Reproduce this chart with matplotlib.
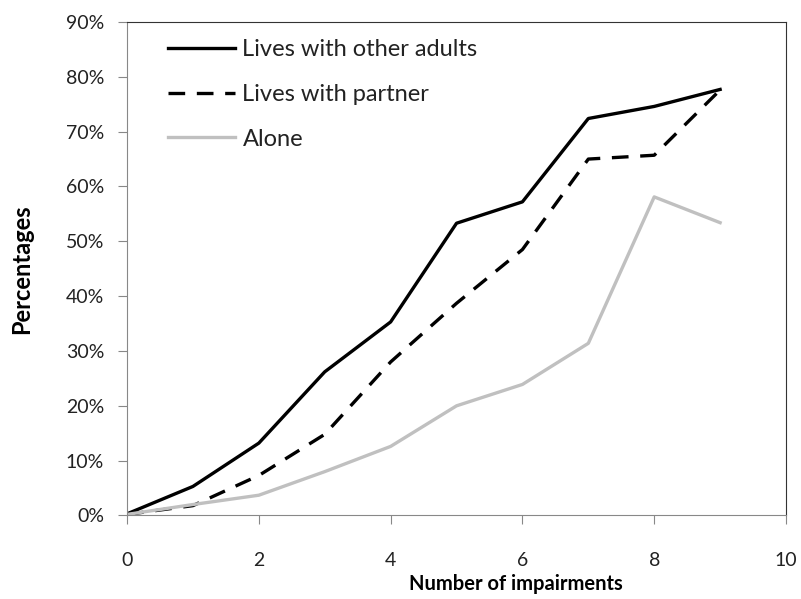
import matplotlib
matplotlib.use("Agg")
import matplotlib.pyplot as plt
from matplotlib.ticker import FuncFormatter

plt.rcParams['font.family'] = ['Lato', 'DejaVu Sans']

# values (percent)
impairments = [0, 1, 2, 3, 4, 5, 6, 7, 8, 9]
other_adults = [0.3, 5.3, 13.2, 26.2, 35.3, 53.3, 57.2, 72.4, 74.6, 77.7]
partner = [0.2, 1.8, 7.3, 14.8, 28.0, 38.7, 48.5, 65.0, 65.7, 77.6]
alone = [0.2, 2.0, 3.7, 8.0, 12.6, 20.0, 23.9, 31.4, 58.1, 53.4]

fig = plt.figure(figsize=(8.01, 5.99), dpi=100)
ax = fig.add_axes([0.1586, 0.1394, 0.8227, 0.8239])

ax.plot(impairments, other_adults, color='black', lw=2.4, label='Lives with other adults')
ax.plot(impairments, partner, color='black', lw=2.4, dashes=(5, 3.5), label='Lives with partner')
ax.plot(impairments, alone, color='#c0c0c0', lw=2.4, label='Alone')

ax.set_xlim(0, 10)
ax.set_ylim(0, 90)
ax.set_xticks(range(0, 11, 2))
ax.set_yticks(range(0, 91, 10))
ax.yaxis.set_major_formatter(FuncFormatter(lambda v, p: f'{v:.0f}%'))
ax.tick_params(axis='both', direction='out', length=6.5, color='#888888',
               labelsize=14, labelcolor='#222222')
ax.tick_params(axis='x', pad=20)
ax.tick_params(axis='y', pad=10)

for s in ['left', 'bottom']:
    ax.spines[s].set_color('#888888')
for s in ['top', 'right']:
    ax.spines[s].set_color('#333333')

ax.set_ylabel('Percentages', fontsize=17, fontweight='bold')
ax.yaxis.set_label_coords(-0.143, 0.5)
fig.text(516 / 801, 1 - 584 / 599, 'Number of impairments', fontsize=14.5,
         fontweight='bold', ha='center', va='center')

leg = ax.legend(loc='upper left', frameon=False, fontsize=17, handlelength=2.85,
                handletextpad=0.3, labelspacing=1.0, bbox_to_anchor=(0.03, 1.008))
for t in leg.get_texts():
    t.set_color('#222222')

fig.savefig('out.png', dpi=100)
